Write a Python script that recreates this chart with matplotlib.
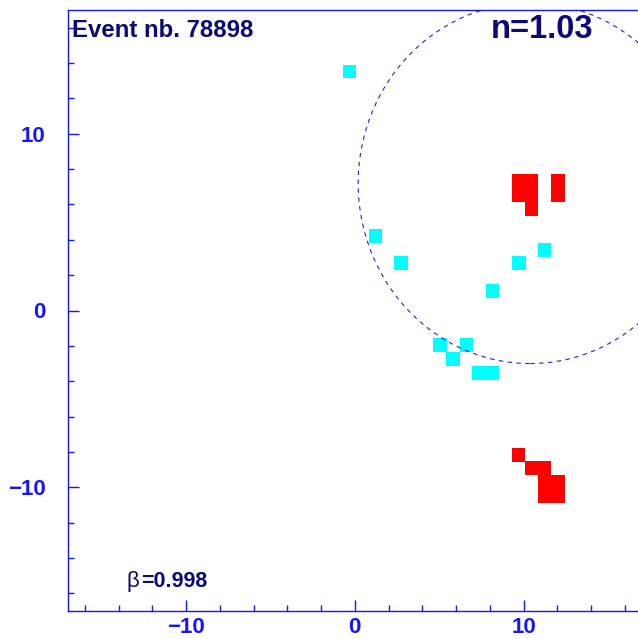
import matplotlib
matplotlib.use("Agg")
import matplotlib.pyplot as plt
from matplotlib.patches import Rectangle, Circle
from matplotlib.ticker import MultipleLocator

# ---- data ----
cyan_x = [-0.33, 1.21, 2.74, 8.17, 9.73, 11.26, 5.05, 5.83, 6.62, 7.37, 8.17]
cyan_y = [13.52, 4.23, 2.67, 1.13, 2.67, 3.44, -1.97, -2.77, -1.97, -3.53, -3.53]
red_x = [9.71, 10.48, 9.71, 10.48, 10.48, 12.05, 12.05,
         9.71, 10.48, 11.26, 11.26, 12.05, 11.26, 12.05]
red_y = [7.32, 7.32, 6.53, 6.53, 5.75, 7.32, 6.53,
         -8.15, -8.93, -8.93, -9.71, -9.71, -10.49, -10.49]
ring_center = (10.4, 7.2)
ring_radius = 10.2
event_label = "Event nb. 78898"
n_label = "n=1.03"
beta_label = "=0.998"
xticks = [-10, 0, 10]
yticks = [-10, 0, 10]
tick_labels = ['\u221210', '0', '10']

plt.rcParams['font.family'] = ['Liberation Sans', 'DejaVu Sans']

BLUE = '#1414FF'
NAVY = '#0A0A78'
CELL = 0.79

fig = plt.figure(figsize=(6.38, 6.39), dpi=100)
ax = fig.add_axes([68/638, 28/639, 573.6/638, 601/639])
ax.set_xlim(-17, 17)
ax.set_ylim(-17, 17)

for x, y in zip(cyan_x, cyan_y):
    ax.add_patch(Rectangle((x - CELL/2, y - CELL/2), CELL, CELL,
                           facecolor='#00FFFF', edgecolor='none', zorder=2))
for x, y in zip(red_x, red_y):
    ax.add_patch(Rectangle((x - CELL/2, y - CELL/2), CELL, CELL,
                           facecolor='#FF0000', edgecolor='none', zorder=2))

ax.add_patch(Circle(ring_center, ring_radius, fill=False, edgecolor='#2020E0',
                    linewidth=0.8, linestyle=(0, (4, 4)), zorder=3))

for side in ['left', 'bottom', 'top', 'right']:
    ax.spines[side].set_color(BLUE)
    ax.spines[side].set_linewidth(1.0)

ax.xaxis.set_minor_locator(MultipleLocator(2))
ax.yaxis.set_minor_locator(MultipleLocator(2))
ax.set_xticks(xticks)
ax.set_yticks(yticks)
ax.set_xticklabels(tick_labels)
ax.set_yticklabels(tick_labels)
ax.tick_params(which='both', direction='in', color=BLUE, width=1.0,
               top=False, right=False)
ax.tick_params(which='major', length=8, labelsize=16, labelcolor=BLUE)
ax.tick_params(which='minor', length=4)
ax.tick_params(axis='x', which='major', pad=4)
ax.tick_params(axis='y', which='major', pad=16)
for lab in ax.get_xticklabels() + ax.get_yticklabels():
    lab.set_fontweight('bold')

ax.text(-16.76, 15.45, event_label, fontsize=17.3, fontweight='bold',
        color=NAVY, ha='left', va='baseline')
ax.text(8.06, 15.4, n_label, fontsize=23.5, fontweight='bold',
        color=NAVY, ha='left', va='baseline')
ax.text(-13.52, -15.66, '\u03b2', fontsize=16, color=NAVY,
        ha='left', va='baseline')
ax.text(-12.69, -15.66, beta_label, fontsize=15.5, fontweight='bold',
        color=NAVY, ha='left', va='baseline')

fig.savefig('out.png', dpi=100)
